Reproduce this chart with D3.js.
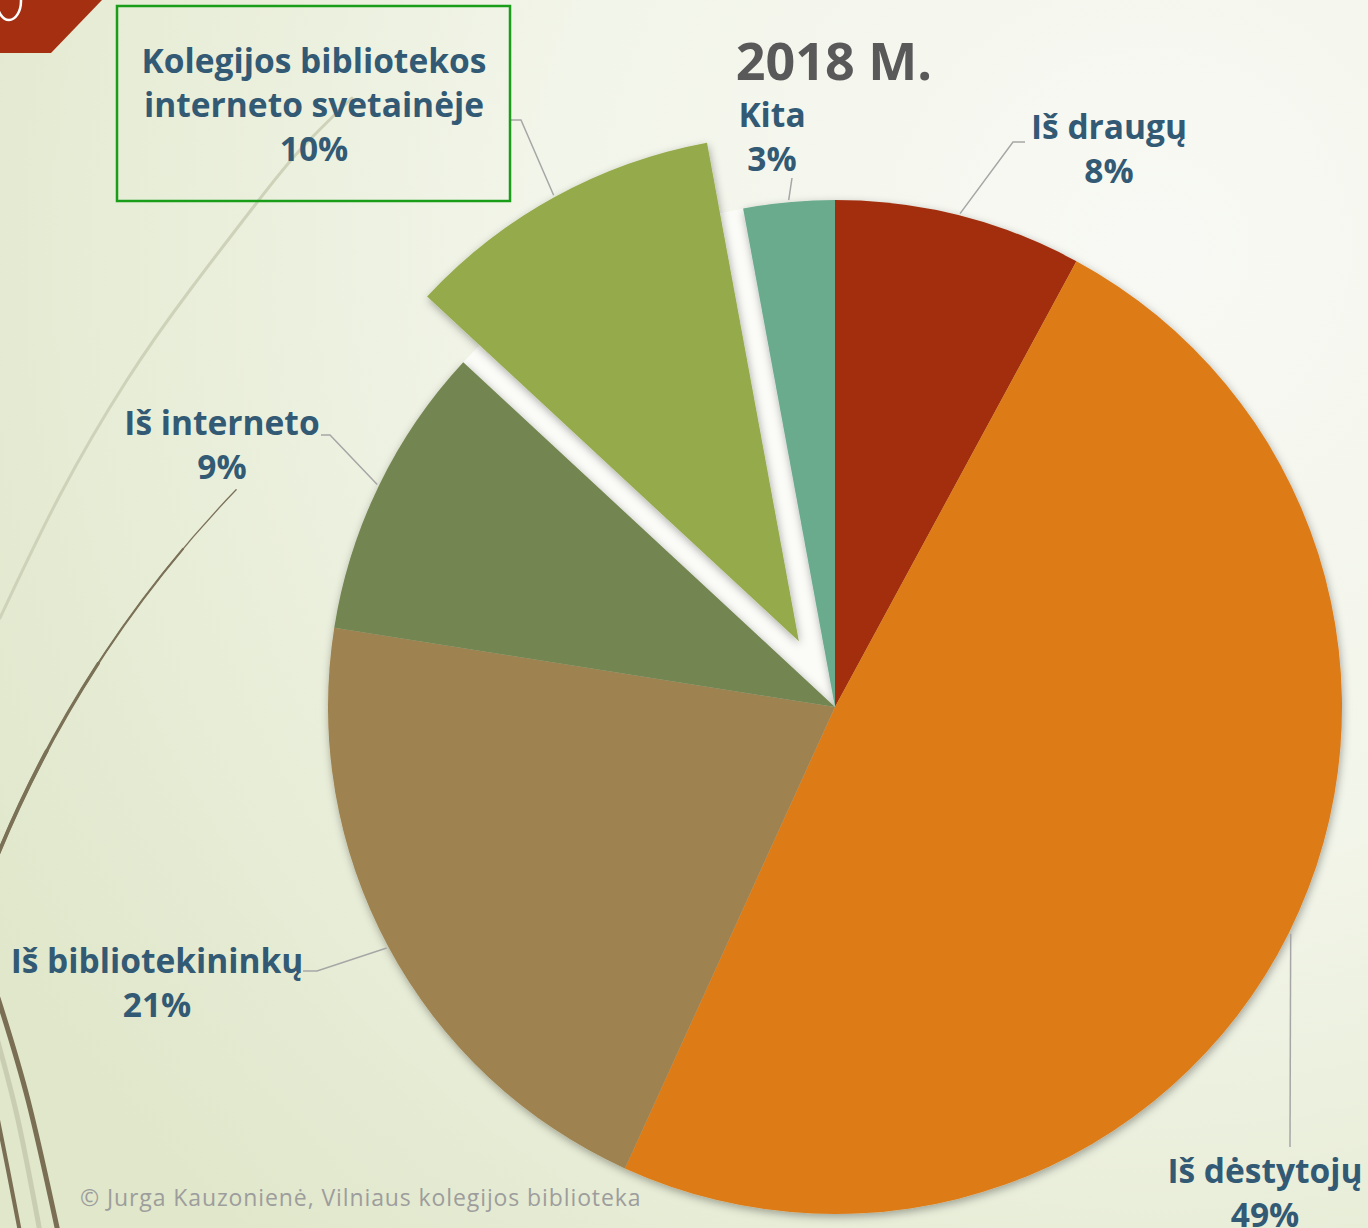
<!DOCTYPE html>
<html>
  <head>
    <style>
      html,
      body { margin: 0; overflow: hidden; }
      text { font-family: "Open Sans", sans-serif; }
    </style>
    <script src="https://d3js.org/d3.v7.js"></script>
  </head>
  <body>
    <svg class="chart"></svg>

    <script>
      const width = 1368;
      const height = 1228;

      // data, clockwise from 12 o'clock
      const categories = [
        'Iš draugų',
        'Iš dėstytojų',
        'Iš bibliotekininkų',
        'Iš interneto',
        'Kolegijos bibliotekos|interneto svetainėje',
        'Kita'
      ];
      const values = [7.9, 48.9, 20.7, 9.4, 10.2, 2.9];
      const colors = ['#a32f10', '#dd7c19', '#9e8250', '#738651', '#94aa4c', '#6aab8e'];
      const title = '2018 M.';
      const credit = '© Jurga Kauzonienė, Vilniaus kolegijos biblioteka';

      const cx = 835;
      const cy = 707;
      const radius = 507;
      const explodeIndex = 4;
      const explodeDist = 75;

      const labelColor = '#335a74';
      const lineGap = 44;

      // label layout: text centre, first baseline, leader elbow and end
      const labelLayout = [
        { x: 1109, y: 139, elbow: [1013, 142], end: [1025, 142] },
        { x: 1265, y: 1183, elbow: [1290, 1147], end: [1290, 1147] },
        { x: 157, y: 973, elbow: [317, 971], end: [303, 971] },
        { x: 222, y: 435, elbow: [330, 435], end: [321, 435] },
        { x: 314, y: 73, elbow: [521, 120], end: [511, 120], box: [117, 6, 393, 195] },
        { x: 772, y: 127, elbow: [792, 178], end: [792, 178] }
      ];

      const svg = d3.select('svg')
        .attr('width', width)
        .attr('height', height);

      const defs = svg.append('defs');

      const bg = defs.append('radialGradient')
        .attr('id', 'bg')
        .attr('gradientUnits', 'userSpaceOnUse')
        .attr('cx', 1150).attr('cy', 250).attr('r', 1350);
      bg.append('stop').attr('offset', '0%').attr('stop-color', '#f8f9f4');
      bg.append('stop').attr('offset', '45%').attr('stop-color', '#f2f5e9');
      bg.append('stop').attr('offset', '100%').attr('stop-color', '#e0e7ca');

      const shadow = defs.append('filter')
        .attr('id', 'shadow')
        .attr('x', '-10%').attr('y', '-10%')
        .attr('width', '120%').attr('height', '120%');
      shadow.append('feDropShadow')
        .attr('dx', 1).attr('dy', 3)
        .attr('stdDeviation', 4)
        .attr('flood-color', '#000')
        .attr('flood-opacity', 0.33);

      svg.append('rect')
        .attr('width', width)
        .attr('height', height)
        .attr('fill', 'url(#bg)');

      // background decoration (slide theme)
      const curve = d3.line().curve(d3.curveNatural);
      const deco = svg.append('g').attr('fill', 'none').attr('stroke-linecap', 'round');

      deco.append('path')
        .attr('d', curve([[352, 98], [300, 150], [255, 205], [190, 290], [127, 380], [60, 495], [0, 618]]))
        .attr('stroke', '#cdd2b9')
        .attr('stroke-width', 3);

      // thin dark swoosh: part of a large circle, getting thicker downwards
      const rad = (deg) => deg * Math.PI / 180;
      const swoosh = (a0, a1) => {
        const p = d3.path();
        p.arc(1077, 1299, 1167, rad(a0), rad(a1), true);
        return p.toString();
      };
      [[-136.1, 1.3], [-140, 2.2], [-147, 3.2], [-152, 3.8]].forEach(([a0, w]) => {
        deco.append('path')
          .attr('d', swoosh(a0, -158))
          .attr('stroke', '#7b7157')
          .attr('stroke-width', w);
      });

      deco.append('path')
        .attr('d', curve([[-4, 1035], [18, 1120], [40, 1232]]))
        .attr('stroke', '#c9ceb3')
        .attr('stroke-width', 5);
      deco.append('path')
        .attr('d', curve([[-2, 998], [28, 1100], [58, 1232]]))
        .attr('stroke', '#7a6e55')
        .attr('stroke-width', 5);
      deco.append('path')
        .attr('d', curve([[-4, 1110], [8, 1170], [20, 1232]]))
        .attr('stroke', '#7a6e55')
        .attr('stroke-width', 4);

      // top-left tab
      svg.append('path')
        .attr('d', 'M0,0 L102,0 L51,53 L0,53 Z')
        .attr('fill', '#a52f11');
      svg.append('ellipse')
        .attr('cx', 9).attr('cy', 1)
        .attr('rx', 12).attr('ry', 19)
        .attr('fill', 'none')
        .attr('stroke', '#fff')
        .attr('stroke-width', 2.5);

      // pie
      const data = categories.map((c, i) => ({ name: c, value: values[i], color: colors[i], index: i }));

      const pie = d3.pie()
        .sort(null)
        .value((d) => d.value);

      const arcs = pie(data);

      const arc = d3.arc()
        .innerRadius(0)
        .outerRadius(radius);

      const chart = svg.append('g')
        .attr('transform', `translate(${cx},${cy})`);

      const exploded = arcs[explodeIndex];
      const midAngle = (d) => (d.startAngle + d.endAngle) / 2;
      const offset = (d) => d.index === explodeIndex
        ? [explodeDist * Math.sin(midAngle(d)), -explodeDist * Math.cos(midAngle(d))]
        : [0, 0];

      // empty slot left behind by the pulled-out slice
      chart.append('path')
        .attr('d', arc(exploded))
        .attr('fill', '#fbfcf8');

      chart.append('g')
        .attr('filter', 'url(#shadow)')
        .selectAll('path')
        .data(arcs.filter((d) => d.index !== explodeIndex))
        .join('path')
        .attr('d', arc)
        .attr('fill', (d) => d.data.color);

      chart.append('path')
        .datum(exploded)
        .attr('filter', 'url(#shadow)')
        .attr('transform', (d) => `translate(${offset(d)})`)
        .attr('d', arc)
        .attr('fill', (d) => d.data.color);

      // leader lines
      const leaderStart = (d) => {
        const a = midAngle(d);
        const o = offset(d);
        return [cx + o[0] + (radius + 2) * Math.sin(a), cy + o[1] - (radius + 2) * Math.cos(a)];
      };

      svg.append('g')
        .selectAll('path')
        .data(arcs)
        .join('path')
        .attr('d', (d) => d3.line()([leaderStart(d), labelLayout[d.index].elbow, labelLayout[d.index].end]))
        .attr('fill', 'none')
        .attr('stroke', '#a6a6a6')
        .attr('stroke-width', 1.5);

      // label box for the highlighted slice
      const box = labelLayout[explodeIndex].box;
      svg.append('rect')
        .attr('x', box[0]).attr('y', box[1])
        .attr('width', box[2]).attr('height', box[3])
        .attr('fill', 'none')
        .attr('stroke', '#1a9e1a')
        .attr('stroke-width', 2.5);

      const labels = svg.append('g')
        .selectAll('text')
        .data(arcs)
        .join('text')
        .attr('text-anchor', 'middle')
        .attr('fill', labelColor)
        .attr('font-weight', 700)
        .attr('font-size', 33.5);

      labels.each(function (d) {
        const lay = labelLayout[d.index];
        const lines = d.data.name.split('|').concat(`${Math.round(d.data.value)}%`);
        d3.select(this)
          .selectAll('tspan')
          .data(lines)
          .join('tspan')
          .attr('x', lay.x)
          .attr('y', (l, i) => lay.y + i * lineGap)
          .text((l) => l);
      });

      svg.append('text')
        .attr('x', 834)
        .attr('y', 80)
        .attr('text-anchor', 'middle')
        .attr('fill', '#595959')
        .attr('font-weight', 700)
        .attr('font-size', 52)
        .text(title);

      svg.append('text')
        .attr('x', 80)
        .attr('y', 1206)
        .attr('fill', '#9d9d9d')
        .attr('font-size', 23)
        .attr('letter-spacing', 0.9)
        .text(credit);
    </script>
  </body>
</html>
